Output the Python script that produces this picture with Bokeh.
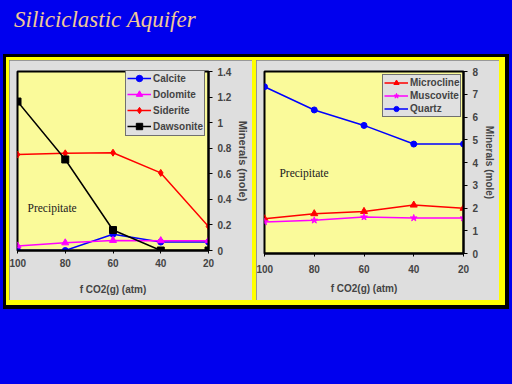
from bokeh.plotting import figure
from bokeh.models import (Range1d, Legend, LegendItem, Label, Div, Row, Column,
                          FixedTicker, NumeralTickFormatter, BoxAnnotation)
from bokeh.embed import file_html
from bokeh.resources import INLINE
from bokeh.core.properties import value

# ---------------- data ----------------
fco2 = [100, 80, 60, 40, 20]
x_ticks = [100, 80, 60, 40, 20]

calcite = [0.0, 0.0, 0.127, 0.066, 0.066]
dolomite = [0.036, 0.06, 0.079, 0.077, 0.077]
siderite = [0.75, 0.76, 0.765, 0.607, 0.188]
dawsonite = [1.165, 0.712, 0.16, 0.0, 0.0]
left_ticks = [0, 0.2, 0.4, 0.6, 0.8, 1.0, 1.2, 1.4]

microcline = [1.53, 1.75, 1.85, 2.13, 1.99]
muscovite = [1.39, 1.46, 1.60, 1.56, 1.56]
quartz = [7.33, 6.31, 5.63, 4.81, 4.81]
right_ticks = [0, 1, 2, 3, 4, 5, 6, 7, 8]

title_text = "Siliciclastic Aquifer"
x_title = "f CO2(g) (atm)"
y_title = "Minerals (mole)"
precip_text = "Precipitate"

BLUE = "#0000EE"
YELLOW = "#FFFF00"
PANEL = "#DEDEDE"
SHADOW = "#CFCFCF"
PLOTBG = "#FAFA9A"
SANS = "Liberation Sans"
SERIF = "Liberation Serif"


def make_panel(height, ymax, yticks, series, mb, leg_loc, leg_row, ylab_size, xl_standoff,
               ticklab_standoff, precip_pos, shadows):
    p = figure(width=243, height=height, x_range=Range1d(100, 20), y_range=Range1d(0, ymax),
               output_backend="svg", toolbar_location=None, y_axis_location="right",
               min_border_left=mb[0], min_border_right=mb[1], min_border_top=mb[2],
               min_border_bottom=mb[3],
               background_fill_color=PLOTBG, border_fill_color=PANEL,
               outline_line_color="black", outline_line_width=2)
    p.grid.visible = False
    for (l, r, t, b) in shadows:
        p.add_layout(BoxAnnotation(left=l, right=r, top=t, bottom=b,
                                   left_units="canvas", right_units="canvas",
                                   top_units="canvas", bottom_units="canvas",
                                   fill_color=SHADOW, fill_alpha=1.0, line_color=None,
                                   level="underlay"))
    xa = p.xaxis[0]
    xa.ticker = FixedTicker(ticks=x_ticks)
    xa.axis_line_color = "black"
    xa.axis_line_width = 2
    xa.major_tick_in = 0
    xa.major_tick_out = 3
    xa.minor_tick_line_color = None
    xa.major_label_text_font = SANS
    xa.major_label_text_font_style = "bold"
    xa.major_label_text_font_size = "10px"
    xa.major_label_standoff = ticklab_standoff
    xa.axis_label = x_title
    xa.axis_label_text_font = SANS
    xa.axis_label_text_font_style = "bold"
    xa.axis_label_text_font_size = "10px"
    xa.axis_label_standoff = xl_standoff

    ya = p.yaxis[0]
    ya.ticker = FixedTicker(ticks=yticks)
    ya.formatter = NumeralTickFormatter(format="0.[0]")
    ya.axis_line_color = "black"
    ya.axis_line_width = 2
    ya.major_tick_in = 0
    ya.major_tick_out = 4
    ya.minor_tick_line_color = None
    ya.major_label_text_font = SANS
    ya.major_label_text_font_style = "bold"
    ya.major_label_text_font_size = "10px"
    ya.major_label_standoff = 5
    ya.axis_label = y_title
    ya.axis_label_text_font = SANS
    ya.axis_label_text_font_style = "bold"
    ya.axis_label_text_font_size = ylab_size
    ya.axis_label_standoff = 3

    items = []
    for name, ys, color, marker, size in series:
        r1 = p.line(fco2, ys, line_color=color, line_width=1.5)
        r2 = p.scatter(fco2, ys, marker=marker, size=size, fill_color=color, line_color=color)
        items.append(LegendItem(label=name, renderers=[r1, r2]))
    leg = Legend(items=items, location=leg_loc, background_fill_color="#E0E0E0",
                 background_fill_alpha=1.0, border_line_color="black", border_line_width=1,
                 label_text_font=SANS, label_text_font_style="bold",
                 label_text_font_size="10px", padding=1, spacing=0, margin=0,
                 label_height=leg_row, glyph_height=leg_row, glyph_width=24,
                 label_standoff=2)
    p.add_layout(leg)
    p.add_layout(Label(x=precip_pos[0], y=precip_pos[1], text=precip_text,
                       text_font=SERIF, text_font_size="11.5px", text_color="#202020",
                       text_baseline="middle"))
    return p


left = make_panel(240, 1.4, left_ticks,
                  [("Calcite", calcite, "#0000FF", "circle", 6),
                   ("Dolomite", dolomite, "#FF00FF", "triangle", 7),
                   ("Siderite", siderite, "#FF0000", "diamond", 7),
                   ("Dawsonite", dawsonite, "#000000", "square", 7)],
                  (8, 44, 11, 50), (108, 114), 16, "11px", 14, 5, (95.8, 0.335),
                  [(199, 217, 27, 190), (26, 217, 190, 213)])

right = make_panel(240, 8, right_ticks,
                   [("Microcline", microcline, "#FF0000", "triangle", 7),
                    ("Muscovite", muscovite, "#FF00FF", "star", 7),
                    ("Quartz", quartz, "#0000FF", "circle", 6)],
                   (8, 36, 11, 47), (118, 136), 13, "10px", 7, 8, (94.0, 3.52),
                   [(207, 211, 28, 193), (42, 211, 193, 198)])

for f in (left, right):
    f.styles = {"outline": "1px solid #808080", "outline-offset": "-1px"}
    f.margin = 0

left_box = Column(children=[left], margin=(3, 0, 5, 3))
right_box = Column(children=[right], margin=(3, 6, 5, 4))

inner = Row(children=[left_box, right_box], styles={"background-color": YELLOW},
            margin=(3, 4, 4, 3))
outer = Row(children=[inner], styles={"background-color": "black"}, margin=(0, 3, 0, 3))

title = Div(text='<div style="padding-left:14px;padding-top:4px;">%s</div>' % title_text,
            width=512, height=54, margin=0,
            styles={"font-family": SERIF, "font-style": "italic", "font-size": "23px",
                    "color": "#F0C896"})

p = Column(children=[title, outer], width=512, height=384, spacing=0,
           styles={"background-color": BLUE, "position": "fixed", "left": "0px", "top": "0px"})

open("out.html", "w").write(file_html(p, INLINE))
